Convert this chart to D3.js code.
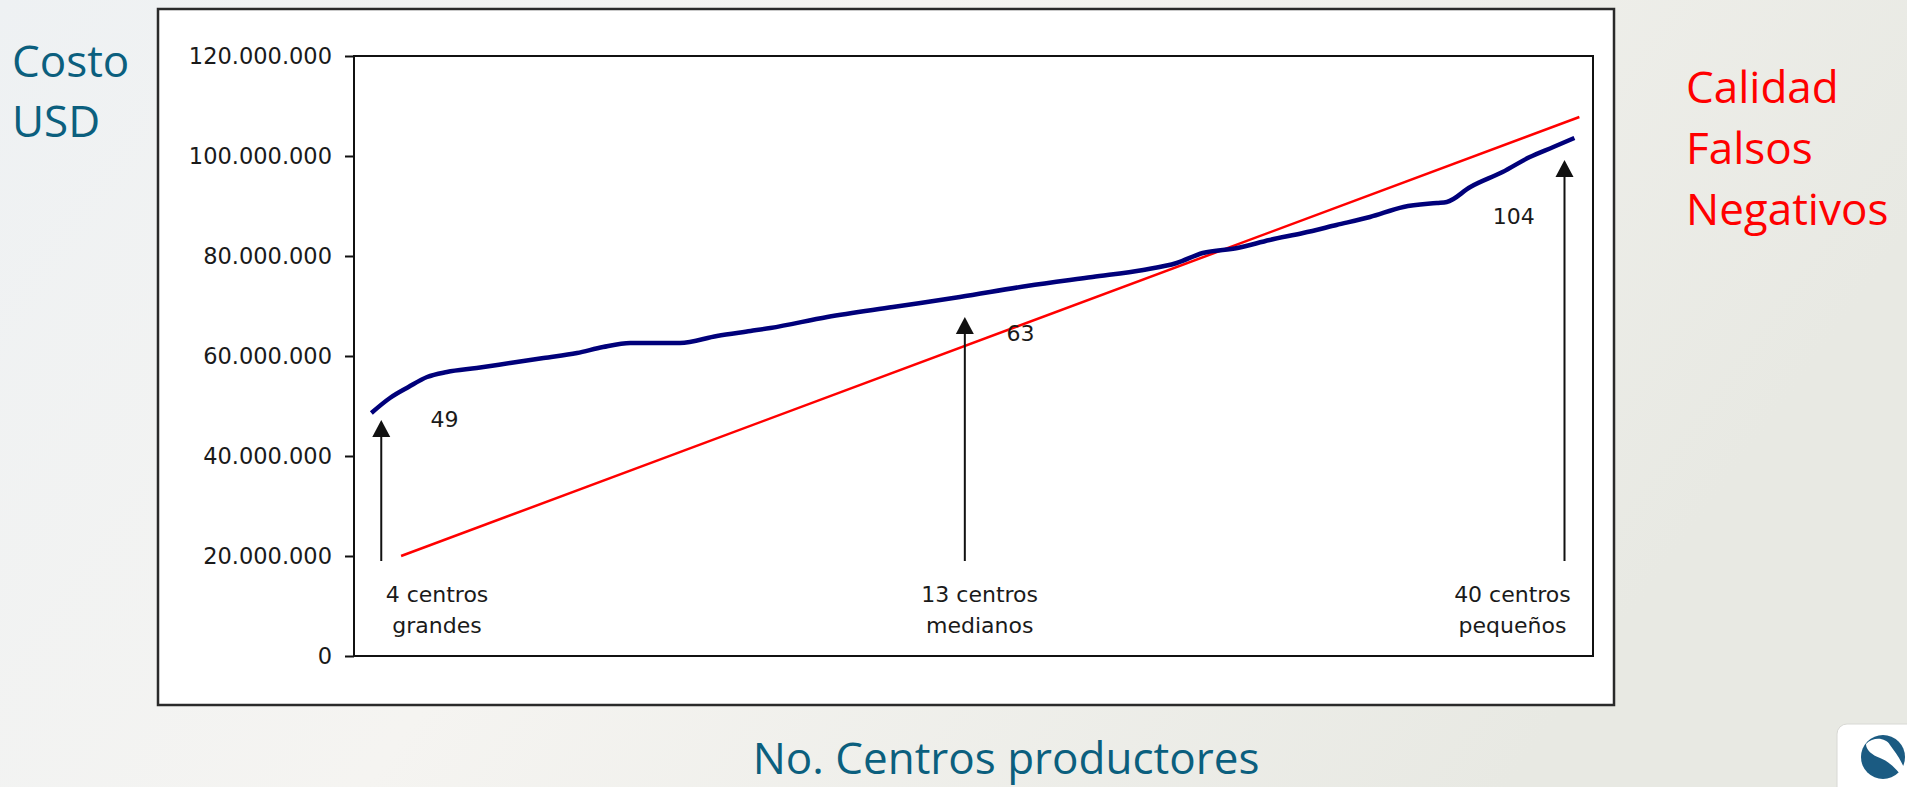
<!DOCTYPE html>
<html><head><meta charset="utf-8">
<script src="https://cdn.jsdelivr.net/npm/d3@7"></script>
<style>html,body{margin:0;padding:0;overflow:hidden;}svg{display:block;}</style>
</head><body>
<svg id="c" width="1907" height="787"></svg>
<script>
// ---- data ----
const yTicks = [0, 20000000, 40000000, 60000000, 80000000, 100000000, 120000000];
// position along x (relative scale 0-100) and cost in millions USD
const curveX = [1.4, 2.9, 4.4, 5.9, 7.5, 9.9, 12.6, 15.3, 18.0, 20.1, 22.3, 26.3, 29.3, 32.0, 33.6, 38.2, 43.5, 48.9, 54.3, 59.6, 63.7, 66.4, 68.5, 71.3, 73.9, 76.6, 79.3, 82.0, 84.7, 87.4, 88.2, 90.1, 92.7, 94.9, 96.8, 98.5];
const costM  = [48.6, 51.6, 53.8, 55.8, 56.8, 57.6, 58.6, 59.6, 60.6, 61.8, 62.6, 62.6, 64.0, 65.0, 65.6, 67.8, 69.8, 71.8, 74.0, 75.8, 77.2, 78.6, 80.6, 81.6, 83.2, 84.6, 86.2, 87.8, 89.8, 90.6, 90.8, 93.8, 96.8, 99.8, 101.8, 103.6];
const qualityX = [3.8, 98.9];
const qualityM = [20, 107.8];
const arrowX = [2.2, 49.3, 97.7];
const arrowTipM = [47.2, 67.8, 99.2];
const arrowBaseM = 19;
const valueLabels = ["49", "63", "104"];
const valueLabelX = [7.3, 53.8, 93.6];
const valueLabelM = [45.8, 63.0, 86.4];
const groupLine1 = ["4 centros", "13 centros", "40 centros"];
const groupLine2 = ["grandes", "medianos", "pequeños"];
const groupLabelX = [6.7, 50.5, 93.5];
const groupLine1M = 10.8;
const groupLine2M = 4.6;
const yTitle = ["Costo", "USD"];
const rightTitle = ["Calidad", "Falsos", "Negativos"];
const xTitle = "No. Centros productores";

// ---- drawing ----
(function(){
const svg = d3.select("#c");
const defs = svg.append("defs");
const g1 = defs.append("linearGradient").attr("id","bg").attr("x1","0").attr("y1","0").attr("x2","1").attr("y2","0.3");
g1.append("stop").attr("offset","0").attr("stop-color","#eef1f3");
g1.append("stop").attr("offset","0.45").attr("stop-color","#f5f4f1");
g1.append("stop").attr("offset","1").attr("stop-color","#e8e9e3");
svg.append("rect").attr("width",1907).attr("height",787).attr("fill","url(#bg)");

// outer chart frame
svg.append("rect").attr("x",158).attr("y",9).attr("width",1456).attr("height",696)
  .attr("fill","#fff").attr("stroke","#2a2a2a").attr("stroke-width",2.5);

const pL = 354, pR = 1593, pT = 56, pB = 656;
const x = d3.scaleLinear().domain([0,100]).range([pL,pR]);
const y = d3.scaleLinear().domain([0,120000000]).range([pB,pT]);
const M = 1e6;

const loc = d3.formatLocale({decimal:",", thousands:".", grouping:[3], currency:["$",""]});
const fmt = loc.format(",d");

const axis = svg.append("g").attr("transform",`translate(${pL},0)`)
  .call(d3.axisLeft(y).tickValues(yTicks).tickFormat(fmt).tickSize(9).tickPadding(13).tickSizeOuter(0));
axis.select(".domain").remove();
axis.selectAll(".tick line").attr("stroke","#111").attr("stroke-width",2);
axis.selectAll(".tick text").attr("font-family","DejaVu Sans").attr("font-size",22.5).attr("fill","#1a1a1a");

// plot box
svg.append("rect").attr("x",pL).attr("y",pT).attr("width",pR-pL).attr("height",pB-pT)
  .attr("fill","none").attr("stroke","#111").attr("stroke-width",2);

// red quality line
svg.append("path").datum(qualityX.map((d,i)=>[d,qualityM[i]]))
  .attr("d", d3.line().x(d=>x(d[0])).y(d=>y(d[1]*M)))
  .attr("stroke","#ff0000").attr("stroke-width",2.5).attr("fill","none");

// blue cost line
svg.append("path").datum(curveX.map((d,i)=>[d,costM[i]]))
  .attr("d", d3.line().x(d=>x(d[0])).y(d=>y(d[1]*M)).curve(d3.curveMonotoneX))
  .attr("stroke","#00007a").attr("stroke-width",4.5).attr("fill","none").attr("stroke-linejoin","round");

// arrows
arrowX.forEach((ax,i)=>{
  const px = x(ax), tip = y(arrowTipM[i]*M), base = y(arrowBaseM*M);
  svg.append("line").attr("x1",px).attr("x2",px).attr("y1",base).attr("y2",tip+10)
    .attr("stroke","#111").attr("stroke-width",2);
  svg.append("path").attr("d",`M${px},${tip} L${px-9},${tip+17} L${px+9},${tip+17} Z`).attr("fill","#111");
});

// value labels
valueLabels.forEach((t,i)=>{
  svg.append("text").attr("x",x(valueLabelX[i])).attr("y",y(valueLabelM[i]*M))
    .attr("text-anchor","middle").attr("font-family","DejaVu Sans").attr("font-size",22).attr("fill","#1a1a1a").text(t);
});
// group labels
groupLine1.forEach((t,i)=>{
  svg.append("text").attr("x",x(groupLabelX[i])).attr("y",y(groupLine1M*M))
    .attr("text-anchor","middle").attr("font-family","DejaVu Sans").attr("font-size",22).attr("fill","#1a1a1a").text(t);
  svg.append("text").attr("x",x(groupLabelX[i])).attr("y",y(groupLine2M*M))
    .attr("text-anchor","middle").attr("font-family","DejaVu Sans").attr("font-size",22).attr("fill","#1a1a1a").text(groupLine2[i]);
});

// titles
yTitle.forEach((t,i)=>{
  svg.append("text").attr("x",12).attr("y",77+i*60).attr("font-family","Open Sans").attr("font-size",44)
    .attr("fill","#0b5f7e").text(t);
});
rightTitle.forEach((t,i)=>{
  svg.append("text").attr("x",1686).attr("y",103+i*61).attr("font-family","Open Sans").attr("font-size",44)
    .attr("fill","#ff0000").text(t);
});
svg.append("text").attr("x",1006).attr("y",774).attr("text-anchor","middle").attr("font-family","Open Sans")
  .attr("font-size",44).attr("fill","#0b5f7e").text(xTitle);

// logo corner
svg.append("rect").attr("x",1837).attr("y",724).attr("width",90).attr("height",90).attr("rx",10)
  .attr("fill","#fff").attr("stroke","#d8d8d4").attr("stroke-width",1);
svg.append("circle").attr("cx",1883).attr("cy",757).attr("r",22).attr("fill","#1b5b82");
svg.append("path").attr("d","M1866,744 C1874,736 1886,738 1890,745 C1895,752 1900,758 1905,770 L1905,781 C1898,770 1890,762 1880,758 C1872,755 1866,750 1866,744 Z").attr("fill","#fff");
})();
</script>
</body></html>
